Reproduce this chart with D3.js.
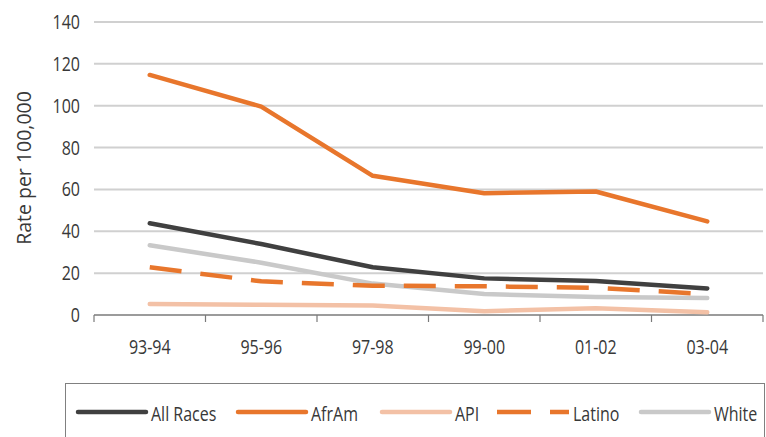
<!DOCTYPE html>
<html>
<head>
<meta charset="utf-8">
<script src="https://cdn.jsdelivr.net/npm/d3@7"></script>
<style>
  body { margin: 0; background: #fff; }
  svg { display: block; }
  text { font-family: "Open Sans", sans-serif; fill: #383838; }
</style>
</head>
<body>
<svg id="chart" width="766" height="437"></svg>
<script>
"use strict";

// periods along the x axis
const periods = ['93-94', '95-96', '97-98', '99-00', '01-02', '03-04'];

// rate per 100,000
const allRaces = [43.8, 33.9, 22.8, 17.5, 16.2, 12.7];
const afrAm = [114.7, 99.6, 66.5, 58.2, 59.0, 44.7];
const api = [5.3, 4.9, 4.5, 1.8, 3.2, 1.3];
const latino = [22.8, 16.1, 14.0, 13.7, 13.0, 10.0];
const white = [33.3, 25.0, 15.0, 10.0, 8.6, 8.1];

const yTicks = [0, 20, 40, 60, 80, 100, 120, 140];

const series = [
  { name: 'All Races', values: allRaces, color: '#404040', dash: null },
  { name: 'AfrAm', values: afrAm, color: '#e8762c', dash: null },
  { name: 'API', values: api, color: '#f3c1a6', dash: null },
  { name: 'Latino', values: latino, color: '#e8762c', dash: '32,19' },
  { name: 'White', values: white, color: '#c9c9c9', dash: null }
];

// the reference uses a condensed face; squeeze Open Sans horizontally
const SQUEEZE = 'scale(0.8,1)';
const FONT_SIZE = '20px';

const svg = d3.select('#chart');

const x = d3.scaleBand().domain(periods).range([94, 763]);
const y = d3.scaleLinear().domain([0, 140]).range([315, 22]);

// grid lines
svg.append('g')
  .selectAll('line')
  .data(yTicks.filter((d) => d > 0))
  .join('line')
  .attr('x1', 94)
  .attr('x2', 763)
  .attr('y1', (d) => y(d))
  .attr('y2', (d) => y(d))
  .attr('stroke', '#d0d0d0')
  .attr('stroke-width', 2);

// y tick labels
svg.append('g')
  .selectAll('text')
  .data(yTicks)
  .join('text')
  .attr('transform', (d) => 'translate(80,' + y(d) + ') ' + SQUEEZE)
  .attr('dy', '0.35em')
  .attr('text-anchor', 'end')
  .style('font-size', FONT_SIZE)
  .text((d) => d);

svg.append('text')
  .attr('transform', 'translate(24,168) rotate(-90)')
  .attr('text-anchor', 'middle')
  .attr('dy', '0.35em')
  .style('font-size', '19.5px')
  .text('Rate per 100,000');

// x axis labels (ticks drawn separately, between categories)
let xAxis = d3.axisBottom(x).tickSize(0);
let gx = svg.append('g').attr('transform', 'translate(0,' + y(0) + ')').call(xAxis);
gx.select('.domain').remove();
gx.selectAll('text')
  .attr('y', 39)
  .attr('dy', 0)
  .attr('transform', SQUEEZE)
  .attr('fill', null)
  .style('font-size', FONT_SIZE)
  .style('font-family', null);
gx.attr('font-family', null).attr('font-size', null);

let tickPos = periods.map((p) => x(p)).concat([x.range()[1]]);
svg.append('g')
  .selectAll('line')
  .data(tickPos)
  .join('line')
  .attr('x1', (d) => d)
  .attr('x2', (d) => d)
  .attr('y1', y(0))
  .attr('y2', y(0) + 7)
  .attr('stroke', '#7a7a7a')
  .attr('stroke-width', 1.2);

svg.append('line')
  .attr('x1', 94)
  .attr('x2', 763)
  .attr('y1', y(0))
  .attr('y2', y(0))
  .attr('stroke', '#7a7a7a')
  .attr('stroke-width', 1.5);

// series lines
let line = d3.line()
  .x((d, i) => x(periods[i]) + x.bandwidth() / 2)
  .y((d) => y(d));

let drawOrder = ['API', 'White', 'Latino', 'All Races', 'AfrAm'];
drawOrder.forEach((name) => {
  let s = series.find((d) => d.name === name);
  svg.append('path')
    .datum(s.values)
    .attr('d', line)
    .attr('fill', 'none')
    .attr('stroke', s.color)
    .attr('stroke-width', 4.5)
    .attr('stroke-linecap', s.dash ? 'butt' : 'round')
    .attr('stroke-linejoin', 'round')
    .attr('stroke-dasharray', s.dash);
});

// legend
svg.append('rect')
  .attr('x', 65.5)
  .attr('y', 383.5)
  .attr('width', 699)
  .attr('height', 80)
  .attr('fill', 'none')
  .attr('stroke', '#808080')
  .attr('stroke-width', 1);

let legendX = [78, 238, 382, 497, 641];
let legend = svg.append('g')
  .selectAll('g')
  .data(series)
  .join('g')
  .attr('transform', (d, i) => 'translate(' + legendX[i] + ',412)');

legend.append('line')
  .attr('x1', 0)
  .attr('x2', (d) => d.dash ? 72 : 68)
  .attr('stroke', (d) => d.color)
  .attr('stroke-width', 4.5)
  .attr('stroke-linecap', (d) => d.dash ? 'butt' : 'round')
  .attr('stroke-dasharray', (d) => d.dash ? '34,19' : null);

legend.append('text')
  .attr('transform', (d) => 'translate(' + (d.dash ? 76 : 73) + ',2) ' + SQUEEZE)
  .attr('dy', '0.35em')
  .style('font-size', FONT_SIZE)
  .text((d) => d.name);
</script>
</body>
</html>
